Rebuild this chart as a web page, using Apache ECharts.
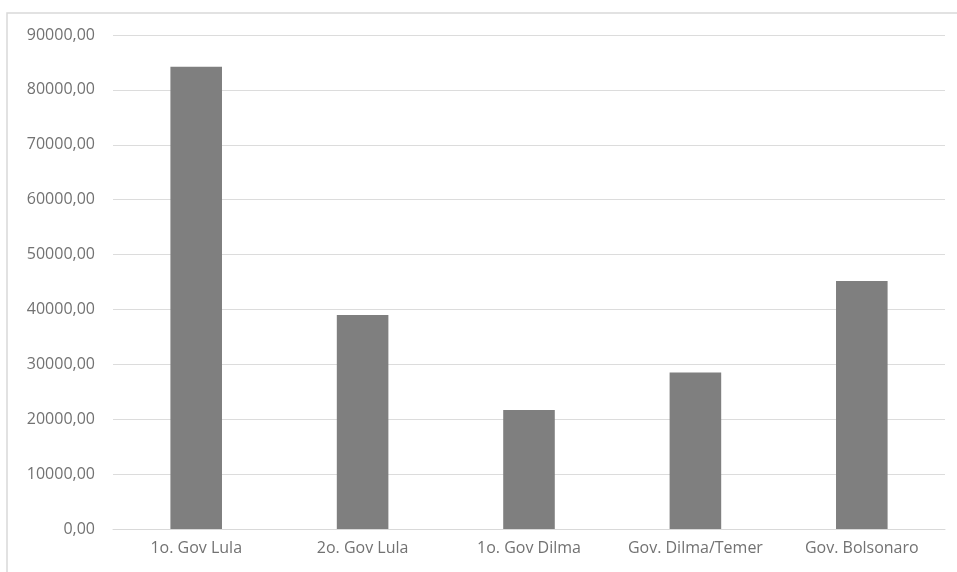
<!DOCTYPE html>
<html>
<head>
<meta charset="utf-8">
<script src="https://cdn.jsdelivr.net/npm/echarts@6/dist/echarts.min.js"></script>
<style>
  html, body { margin: 0; padding: 0; background: #ffffff; }
  #chart { width: 957px; height: 572px; }
</style>
</head>
<body>
<div id="chart"></div>
<script>
// Governments along the category axis
const categories = ['1o. Gov Lula', '2o. Gov Lula', '1o. Gov Dilma', 'Gov. Dilma/Temer', 'Gov. Bolsonaro'];
// One value per government
const values = [84200, 39000, 21700, 28500, 45200];
// Value axis range and step
const yMin = 0;
const yMax = 90000;
const yStep = 10000;

const textColor = '#727272';
const fontFamily = '"Open Sans", "Noto Sans", sans-serif';

const chart = echarts.init(document.getElementById('chart'), null, { renderer: 'canvas' });

chart.setOption({
  backgroundColor: '#ffffff',
  animation: false,
  graphic: [
    {
      type: 'polyline',
      shape: { points: [[7, 572], [7, 13], [957, 13]] },
      style: { stroke: '#d9d9d9', lineWidth: 1.5, fill: null }
    }
  ],
  grid: { left: 113, right: 12, top: 35, bottom: 43, containLabel: false },
  xAxis: {
    type: 'category',
    data: categories,
    axisLine: { show: true, lineStyle: { color: '#d9d9d9', width: 1 } },
    axisTick: { show: false },
    axisLabel: {
      color: textColor,
      fontFamily: fontFamily,
      fontSize: 16,
      margin: 11,
      interval: 0,
      hideOverlap: false
    }
  },
  yAxis: {
    type: 'value',
    min: yMin,
    max: yMax,
    interval: yStep,
    axisLine: { show: false },
    axisTick: { show: false },
    splitLine: { show: true, lineStyle: { color: '#dcdcdc', width: 1 } },
    axisLabel: {
      color: textColor,
      fontFamily: fontFamily,
      fontSize: 16,
      margin: 18,
      formatter: function (v) { return v.toFixed(2).replace('.', ','); }
    }
  },
  series: [
    {
      type: 'bar',
      data: values,
      barWidth: '31%',
      itemStyle: { color: '#7f7f7f' }
    }
  ]
});
</script>
</body>
</html>
